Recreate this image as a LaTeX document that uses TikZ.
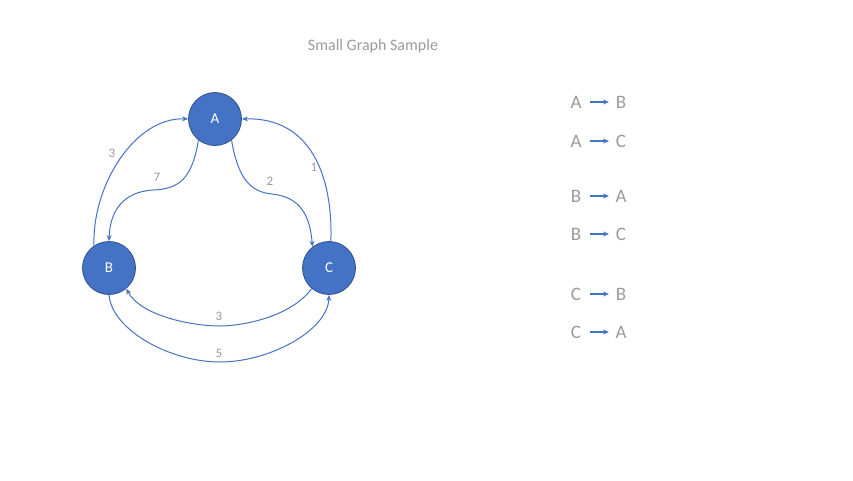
\documentclass[tikz,border=0pt]{standalone}
\usepackage{fontspec}
\setmainfont{Carlito}
\usetikzlibrary{arrows.meta}
\definecolor{obl}{HTML}{4472C4}
\definecolor{obd}{HTML}{2F528F}
\definecolor{ltx}{HTML}{9A9A9A}
\begin{document}
\begin{tikzpicture}[x=1pt,y=-1pt,
  vert/.style={circle,fill=obl,draw=obd,line width=0.8pt,minimum size=53pt,inner sep=0pt,text=white,font=\fontsize{15}{17}\selectfont},
  edge/.style={draw=obl,line width=1pt,-{Stealth[length=6pt,width=5pt]}},
  lbl/.style={text=ltx,font=\fontsize{13}{15}\selectfont,inner sep=0pt},
  lst/.style={text=ltx,font=\fontsize{19}{21}\selectfont,inner sep=0pt},
  larr/.style={draw=obl,line width=1.2pt,-{Stealth[length=6pt,width=5pt]}}]
\useasboundingbox (0,0) rectangle (853,480);
\node[text=ltx,font=\fontsize{16}{18}\selectfont] (title) at (373,46) {Small Graph Sample};
\node[vert] (A) at (215,119) {A};
\node[vert] (B) at (109,268) {B};
\node[vert] (C) at (329,268) {C};
% B -> A outer
\draw[edge] (B.124) .. controls (92,185) and (135,117) .. (A.west);
\node[lbl] (l3a) at (112,153) {3};
% A -> B inner
\coordinate (mAB) at (153,190);
\draw[edge] (A.232) .. controls (192,178) and (180,189) .. (mAB) .. controls (122,192) and (110,212) .. (B.north);
\node[lbl] (l7) at (157,177) {7};
% A -> C inner
\coordinate (mAC) at (272,194);
\draw[edge] (A.-52) .. controls (238,178) and (250,192) .. (mAC) .. controls (300,197) and (310,215) .. (C.128);
\node[lbl] (l2) at (270,181) {2};
% C -> A outer
\draw[edge] (C.86) .. controls (333,175) and (310,117) .. (A.east);
\node[lbl] (l1) at (314,167) {1};
% C -> B
\draw[edge] (C.-130) .. controls (290,318) and (240,326) .. (220,326) .. controls (190,326) and (140,315) .. (B.-50);
\node[lbl] (l3b) at (219,316) {3};
% B -> C
\draw[edge] (B.-90) .. controls (112,330) and (170,362) .. (220,362) .. controls (270,362) and (328,330) .. (C.-90);
\node[lbl] (l5) at (219,353) {5};
% list
\foreach \y/\a/\b/\n in {102/A/B/1,141/A/C/2,196/B/A/3,234/B/C/4,294/C/B/5,332/C/A/6}{
  \node[lst] (s\n) at (576,\y) {\a};
  \node[lst] (t\n) at (621,\y) {\b};
  \coordinate (p\n) at (590,\y);
  \coordinate (q\n) at (609,\y);
  \draw[larr] (p\n) -- (q\n);
}
\end{tikzpicture}
\end{document}
